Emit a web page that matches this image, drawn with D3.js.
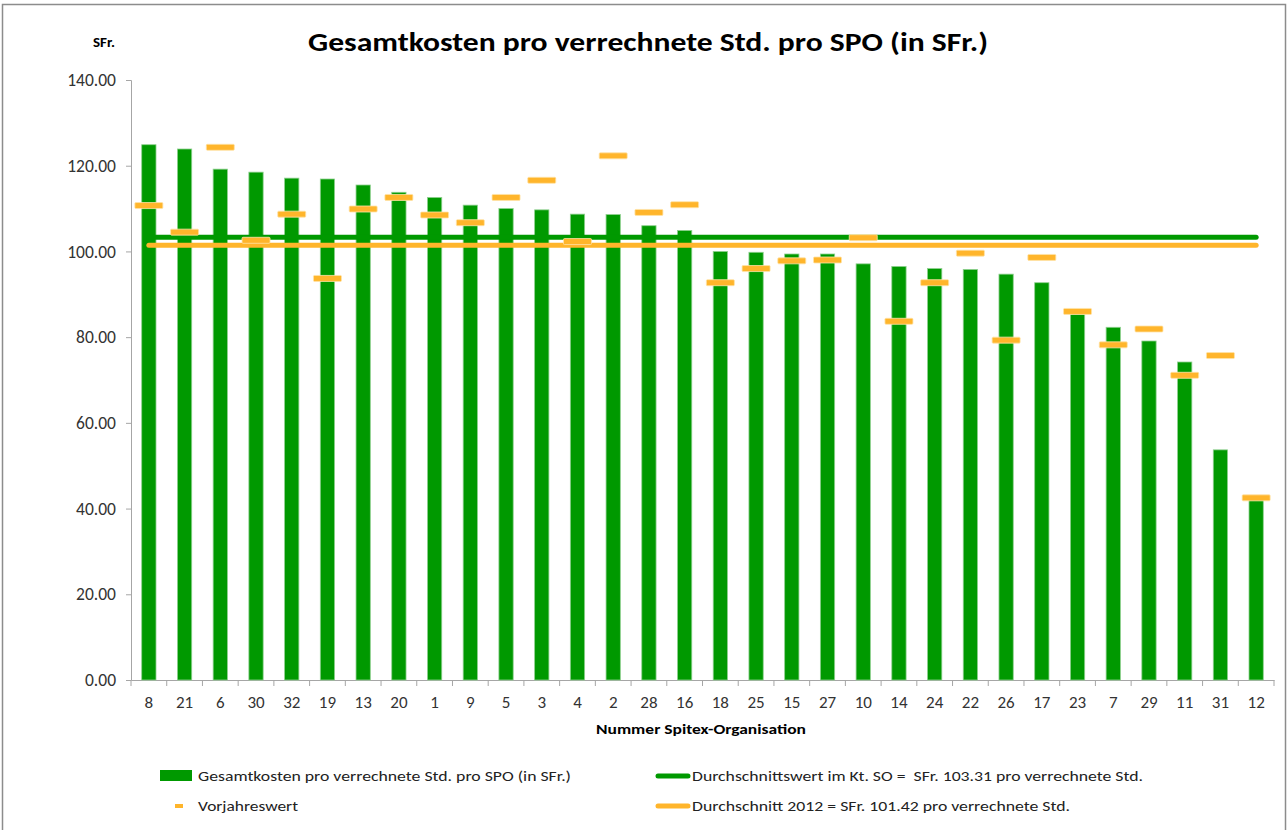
<!DOCTYPE html>
<html>
<head>
<meta charset="utf-8">
<script src="https://cdn.jsdelivr.net/npm/d3@7"></script>
<style>
  body { margin: 0; background: #fff; }
  svg { display: block; font-family: Carlito, Calibri, "Open Sans", sans-serif; }
</style>
</head>
<body>
<svg></svg>
<script>
const orgs = ["8","21","6","30","32","19","13","20","1","9","5","3","4","2","28","16",
              "18","25","15","27","10","14","24","22","26","17","23","7","29","11","31","12"];
const kosten = [124.9,123.9,119.2,118.5,117.1,116.9,115.5,113.8,112.6,110.8,110.0,109.7,108.7,108.6,106.0,104.9,
                100.0,99.8,99.4,99.4,97.1,96.5,96.0,95.8,94.7,92.7,85.4,82.3,79.1,74.2,53.7,42.0];
const vorjahr = [110.7,104.5,124.3,102.6,108.7,93.7,109.9,112.6,108.5,106.7,112.6,116.6,102.3,122.3,109.1,110.9,
                 92.7,96.0,97.8,98.0,103.2,83.7,92.7,99.6,79.3,98.6,86.0,78.2,81.9,71.1,75.7,42.5];
const avgKt = 103.31;
const avg2012 = 101.42;
const yTicks = [0, 20, 40, 60, 80, 100, 120, 140];

const green = '#009900';
const orange = '#FFB52B';
const fontFam = 'Carlito, Calibri, "Open Sans", sans-serif';

function createElements() {
    const svg = d3.select('svg')
        .attr('width', 1288)
        .attr('height', 830);

    // outer chart frame
    svg.append('rect')
        .attr('x', 2.5).attr('y', 4.5)
        .attr('width', 1283).attr('height', 840)
        .attr('fill', 'none')
        .attr('stroke', '#8c8c8c')
        .attr('stroke-width', 1.5);

    const x = d3.scaleBand().domain(orgs).range([131, 1274]).padding(0);
    const y = d3.scaleLinear().domain([0, 140]).range([680, 80]);

    // title
    svg.append('text')
        .attr('x', 648).attr('y', 51)
        .attr('text-anchor', 'middle')
        .attr('font-size', 27).attr('font-weight', 'bold')
        .attr('textLength', 680).attr('lengthAdjust', 'spacingAndGlyphs')
        .text('Gesamtkosten pro verrechnete Std. pro SPO (in SFr.)');

    svg.append('text')
        .attr('x', 93).attr('y', 47)
        .attr('font-size', 13).attr('font-weight', 'bold')
        .attr('textLength', 22).attr('lengthAdjust', 'spacingAndGlyphs')
        .text('SFr.');

    // y axis
    const yAxis = svg.append('g')
        .attr('transform', 'translate(131,0)')
        .call(d3.axisLeft(y).tickValues(yTicks).tickFormat(d3.format('.2f')).tickSize(5).tickPadding(10));
    yAxis.select('.domain').attr('stroke', '#a6a6a6');
    yAxis.selectAll('.tick line').attr('stroke', '#a6a6a6');
    yAxis.selectAll('.tick text')
        .attr('font-size', 17.5).attr('fill', '#333')
        .attr('font-family', fontFam);

    // x axis
    const xAxis = svg.append('g')
        .attr('transform', 'translate(0,680)')
        .call(d3.axisBottom(x).tickSize(0).tickPadding(16));
    xAxis.select('.domain').attr('stroke', '#a6a6a6');
    xAxis.selectAll('.tick text')
        .attr('font-size', 17).attr('fill', '#333')
        .attr('font-family', fontFam);
    // tick marks between categories
    xAxis.selectAll('.sep')
        .data(d3.range(orgs.length + 1))
        .join('line')
        .attr('x1', i => 131 + i * x.step()).attr('x2', i => 131 + i * x.step())
        .attr('y1', 0).attr('y2', 6)
        .attr('stroke', '#a6a6a6');

    svg.append('text')
        .attr('x', 701).attr('y', 734)
        .attr('text-anchor', 'middle')
        .attr('font-size', 14).attr('font-weight', 'bold')
        .attr('textLength', 210).attr('lengthAdjust', 'spacingAndGlyphs')
        .text('Nummer Spitex-Organisation');

    // bars
    const barW = x.bandwidth() * 0.4;
    svg.append('g').selectAll('rect')
        .data(orgs)
        .join('rect')
        .attr('x', (d, i) => x(d) + (x.bandwidth() - barW) / 2)
        .attr('y', (d, i) => y(kosten[i]))
        .attr('width', barW)
        .attr('height', (d, i) => y(0) - y(kosten[i]))
        .attr('fill', green)
        .attr('stroke', '#8fd08f')
        .attr('stroke-width', 0.8);

    // average lines
    const x0 = x(orgs[0]) + x.bandwidth() / 2;
    const x1 = x(orgs[orgs.length - 1]) + x.bandwidth() / 2;
    svg.append('line')
        .attr('x1', x0).attr('x2', x1)
        .attr('y1', y(avgKt)).attr('y2', y(avgKt))
        .attr('stroke', green).attr('stroke-width', 5)
        .attr('stroke-linecap', 'round');
    svg.append('line')
        .attr('x1', x0).attr('x2', x1)
        .attr('y1', y(avg2012)).attr('y2', y(avg2012))
        .attr('stroke', orange).attr('stroke-width', 5)
        .attr('stroke-linecap', 'round');

    // previous-year markers
    const mW = 28, mH = 6;
    svg.append('g').selectAll('rect')
        .data(orgs)
        .join('rect')
        .attr('x', d => x(d) + x.bandwidth() / 2 - mW / 2)
        .attr('y', (d, i) => y(vorjahr[i]) - mH / 2)
        .attr('width', mW).attr('height', mH)
        .attr('rx', 1)
        .attr('fill', orange)
        .attr('stroke', '#ffe3a8')
        .attr('stroke-width', 0.8);

    // legend
    const legend = svg.append('g').attr('font-size', 15).attr('fill', '#222');
    legend.append('rect')
        .attr('x', 160).attr('y', 770).attr('width', 32).attr('height', 11)
        .attr('fill', green);
    legend.append('text').attr('x', 198).attr('y', 781)
        .attr('textLength', 373).attr('lengthAdjust', 'spacingAndGlyphs')
        .text('Gesamtkosten pro verrechnete Std. pro SPO (in SFr.)');

    legend.append('line')
        .attr('x1', 658).attr('x2', 688).attr('y1', 776).attr('y2', 776)
        .attr('stroke', green).attr('stroke-width', 5).attr('stroke-linecap', 'round');
    legend.append('text').attr('x', 692).attr('y', 781)
        .attr('xml:space', 'preserve')
        .attr('textLength', 451).attr('lengthAdjust', 'spacingAndGlyphs')
        .text('Durchschnittswert im Kt. SO =  SFr. ' + avgKt.toFixed(2) + ' pro verrechnete Std.');

    legend.append('rect')
        .attr('x', 175).attr('y', 804).attr('width', 8).attr('height', 4)
        .attr('fill', orange);
    legend.append('text').attr('x', 198).attr('y', 811)
        .attr('textLength', 100).attr('lengthAdjust', 'spacingAndGlyphs')
        .text('Vorjahreswert');

    legend.append('line')
        .attr('x1', 658).attr('x2', 688).attr('y1', 806).attr('y2', 806)
        .attr('stroke', orange).attr('stroke-width', 5).attr('stroke-linecap', 'round');
    legend.append('text').attr('x', 692).attr('y', 811)
        .attr('textLength', 378).attr('lengthAdjust', 'spacingAndGlyphs')
        .text('Durchschnitt 2012 = SFr. ' + avg2012.toFixed(2) + ' pro verrechnete Std.');
}

createElements();
</script>
</body>
</html>
